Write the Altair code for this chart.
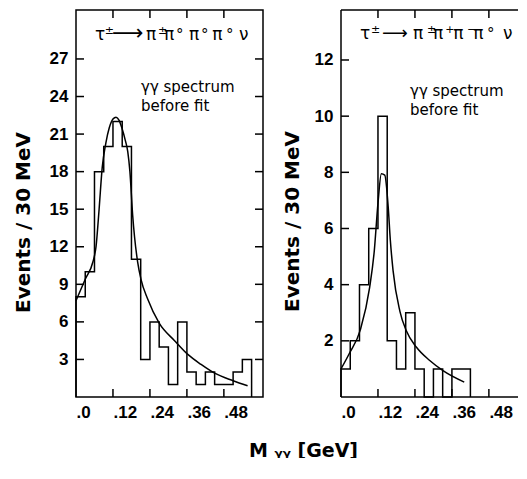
import altair as alt
import pandas as pd

# ---------------- data ----------------
left_edges = [0.00, 0.03, 0.06, 0.09, 0.12, 0.15, 0.18, 0.21, 0.24, 0.27,
              0.30, 0.33, 0.36, 0.39, 0.42, 0.45, 0.48, 0.51, 0.54, 0.57]
left_counts = [8, 10, 18, 20, 22, 20, 11, 3, 6, 4, 1, 6, 2, 1, 2, 1, 1, 2, 3]

right_edges = [0.00, 0.03, 0.06, 0.09, 0.12, 0.15, 0.18, 0.21, 0.24, 0.27,
               0.30, 0.33, 0.36, 0.39, 0.42]
right_counts = [1, 2, 4, 6, 10, 2, 1, 3, 1, 0, 1, 0, 1, 1]

left_fit_x = [0.000, 0.030, 0.055, 0.065, 0.075, 0.085, 0.097, 0.108, 0.120, 0.130,
              0.140, 0.150, 0.160, 0.168, 0.175, 0.184, 0.190, 0.200, 0.211, 0.233,
              0.270, 0.320, 0.363, 0.406, 0.450, 0.510, 0.557]
left_fit_y = [7.7, 9.4, 10.8, 12.0, 15.0, 18.3, 20.3, 21.5, 22.2, 22.35,
              22.1, 21.4, 20.5, 19.6, 18.0, 14.5, 12.8, 10.8, 9.4, 7.8,
              5.9, 4.5, 3.4, 2.6, 1.9, 1.3, 0.9]

right_fit_x = [0.000, 0.027, 0.063, 0.093, 0.108, 0.120, 0.131, 0.142, 0.153, 0.160,
               0.169, 0.191, 0.212, 0.245, 0.288, 0.331, 0.400]
right_fit_y = [1.0, 1.55, 2.4, 3.9, 5.2, 6.9, 7.95, 7.9, 6.8, 5.6,
               4.5, 3.06, 2.36, 1.77, 1.3, 0.94, 0.53]

x_label_values = [0.0, 0.12, 0.24, 0.36, 0.48]
x_tick_values = [0.12, 0.24, 0.36, 0.48]
left_y_ticks = [3, 6, 9, 12, 15, 18, 21, 24, 27]
right_y_ticks = [2, 4, 6, 8, 10, 12]

left_decay_base = ["τ", "⟶", "π", "π", "°", "π", "°", "π", "°", "ν"]
left_decay_sup = ["±", "±"]
right_decay_base = ["τ", "⟶", "π", "π", "π", "π", "°", "ν"]
right_decay_sup = ["±", "±", "+", "−"]
note_lines = ["γγ spectrum", "before fit"]

y_title = "Events / 30 MeV"
x_title = "M  ᵧᵧ  [GeV]"

# ---------------- layout / annotation positions (GeV, events) ----------------
left_base_x = [0.062, 0.117, 0.227, 0.286, 0.325, 0.367, 0.406, 0.442, 0.487, 0.529]
left_sup_x = [0.093, 0.266]
right_base_x = [0.062, 0.133, 0.234, 0.299, 0.364, 0.429, 0.474, 0.526]
right_sup_x = [0.097, 0.279, 0.338, 0.409]

H = 387
TICK = 8
LABEL_FONT = "Liberation Sans"
TEXT_FONT = "DejaVu Sans"


def panel(edges, counts, fit_x, fit_y, W, xmax, ymax, yticks,
          base_tok, base_x, base_y, sup_tok, sup_x, sup_y,
          note_x, note_y, arrow_size, title_pad, title_y, closed):
    rows = [{"x": edges[0], "y": 0, "i": 0}]
    for k, c in enumerate(counts):
        rows.append({"x": edges[k], "y": c, "i": k + 1})
    rows.append({"x": edges[len(counts)], "y": 0, "i": len(counts) + 1})
    hist = pd.DataFrame(rows)
    fit = pd.DataFrame({"x": fit_x, "y": fit_y})

    xs = alt.Scale(domain=[0, xmax], nice=False, zero=False)
    ys = alt.Scale(domain=[0, ymax], nice=False, zero=False)

    xaxis = alt.Axis(values=x_label_values, ticks=False, domain=False, grid=False,
                     labelAlign="left", labelFlush=False, labelOverlap=False,
                     labelBound=False, labelPadding=7,
                     labelExpr="datum.value == 0 ? '.0' : replace(format(datum.value, '.2f'), '0.', '.')",
                     labelFont=LABEL_FONT, labelFontSize=17, labelFontWeight="bold",
                     labelColor="black", title=None)
    yaxis = alt.Axis(values=yticks, ticks=False, domain=False, grid=False,
                     labelPadding=8, labelFont=LABEL_FONT, labelFontSize=17,
                     labelFontWeight="bold", labelColor="black", labelOverlap=False,
                     title=y_title, titleFont=TEXT_FONT, titleFontSize=20,
                     titleFontWeight="bold", titleColor="black", titlePadding=title_pad,
                     titleY=title_y)
    X = alt.X("x:Q", scale=xs, axis=xaxis)
    Y = alt.Y("y:Q", scale=ys, axis=yaxis)

    h = alt.Chart(hist).mark_line(interpolate="step-after", color="black",
                                  strokeWidth=1.5).encode(x=X, y=Y, order="i:Q")
    f = alt.Chart(fit).mark_line(interpolate="monotone", color="black",
                                 strokeWidth=1.5).encode(x=X, y=Y)

    xt = pd.DataFrame({"x": x_tick_values})
    yt = pd.DataFrame({"y": yticks})
    rule = dict(color="black", strokeWidth=1.5)
    layers = [h, f]
    layers.append(alt.Chart(xt).mark_rule(**rule).encode(
        x=X, y=alt.value(H), y2=alt.value(H - TICK)))
    layers.append(alt.Chart(xt).mark_rule(**rule).encode(
        x=X, y=alt.value(0), y2=alt.value(TICK)))
    layers.append(alt.Chart(yt).mark_rule(**rule).encode(
        y=Y, x=alt.value(0), x2=alt.value(TICK)))
    if closed:
        layers.append(alt.Chart(yt).mark_rule(**rule).encode(
            y=Y, x=alt.value(W), x2=alt.value(W - TICK)))
    else:
        # frame without the right edge (it lies past the page edge in the original)
        edge = dict(color="black", strokeWidth=1.5)
        layers.append(alt.Chart(xt.head(1)).mark_rule(**edge).encode(
            x=alt.value(0), x2=alt.value(W), y=alt.value(0)))
        layers.append(alt.Chart(xt.head(1)).mark_rule(**edge).encode(
            x=alt.value(0), x2=alt.value(W), y=alt.value(H)))
        layers.append(alt.Chart(xt.head(1)).mark_rule(**edge).encode(
            x=alt.value(0), y=alt.value(0), y2=alt.value(H)))

    bt = pd.DataFrame({"t": base_tok, "x": base_x, "y": [base_y] * len(base_tok),
                       "s": [arrow_size if t == "⟶" else (15 if t == "°" else 17) for t in base_tok]})
    st = pd.DataFrame({"t": sup_tok, "x": sup_x, "y": [sup_y] * len(sup_tok)})
    nt = pd.DataFrame({"t": note_lines, "x": [note_x] * 2, "y": note_y})

    layers.append(alt.Chart(bt).mark_text(align="left", baseline="alphabetic", font=TEXT_FONT,
                                          color="black").encode(
        x=X, y=Y, text="t:N", size=alt.Size("s:Q", scale=None, legend=None)))
    layers.append(alt.Chart(st).mark_text(align="left", baseline="alphabetic", font=TEXT_FONT,
                                          fontSize=11, color="black").encode(x=X, y=Y, text="t:N"))
    layers.append(alt.Chart(nt).mark_text(align="left", baseline="alphabetic", font=TEXT_FONT,
                                          fontSize=15, color="black").encode(x=X, y=Y, text="t:N"))

    props = dict(width=W, height=H)
    if not closed:
        props["view"] = alt.ViewBackground(stroke=None)
    return alt.layer(*layers).properties(**props)


left = panel(left_edges, left_counts, left_fit_x, left_fit_y, 187, 0.607, 30.91, left_y_ticks,
             left_decay_base, left_base_x, 28.5, left_decay_sup, left_sup_x, 29.0,
             0.211, [24.36, 22.84], 22, 16, 212, True)
right = panel(right_edges, right_counts, right_fit_x, right_fit_y, 177, 0.5745, 13.78,
              right_y_ticks,
              right_decay_base, right_base_x, 12.74, right_decay_sup, right_sup_x, 12.96,
              0.224, [10.72, 10.04], 18, 12, 211, False)

chart = alt.hconcat(left, right, spacing=17).properties(
    title=alt.TitleParams(x_title, orient="bottom", anchor="middle", dx=38, offset=21,
                          font=TEXT_FONT, fontSize=19, fontWeight="bold", color="black"),
    padding={"left": 4, "top": 0, "right": 0, "bottom": -3},
    background="white",
).configure_view(stroke="black", strokeWidth=1.5)

chart.save("out.html", embed_options={"renderer": "svg", "actions": False})
